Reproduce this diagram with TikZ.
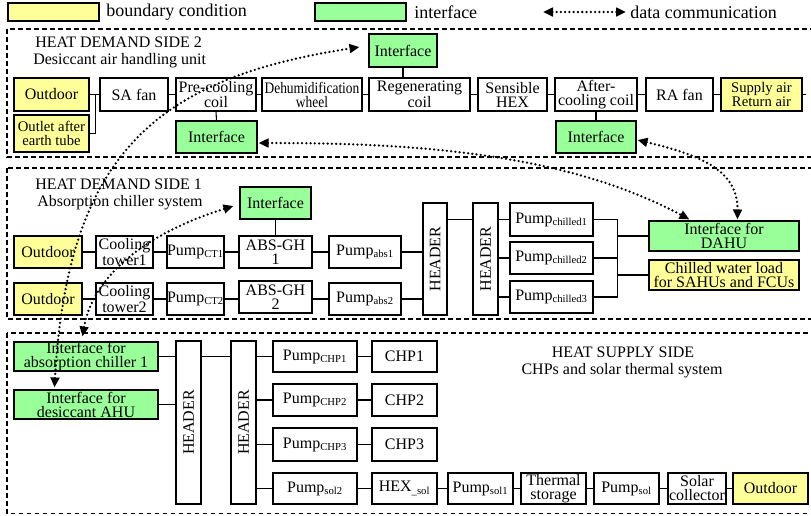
\documentclass[tikz,border=0pt]{standalone}
\usepackage{fontspec}
\setmainfont{Liberation Serif}
\usepackage{graphicx}
\usetikzlibrary{arrows.meta,calc}
\definecolor{yel}{RGB}{255,255,153}
\definecolor{grn}{RGB}{153,255,153}
\newcommand\mybox[7]{\node[#1, minimum width={(#5-#3)*0.75pt}, minimum height={(#6-#4)*0.75pt}] (#2) at ({(#3+#5)/2},{(#4+#6)/2}) {#7};}
\begin{document}
\begin{tikzpicture}[x=0.75pt,y=-0.75pt,
 bx/.style={draw, fill=white, line width=0.8pt, inner sep=0pt, align=center, font=\fontsize{12}{10.5}\selectfont},
 bxy/.style={bx, fill=yel},
 bxg/.style={bx, fill=grn},
 ln/.style={line width=0.8pt},
 sec/.style={line width=0.8pt, dash pattern=on 3.5pt off 2.5pt},
 ttl/.style={anchor=west, inner sep=0pt, font=\fontsize{12}{14}\selectfont},
 lgt/.style={anchor=west, inner sep=0pt, font=\fontsize{13.5}{15}\selectfont},
 dc/.style={line width=1.9pt, dash pattern=on 0pt off 3.2pt, line cap=round, {Triangle[length=7.5pt,width=6.5pt]}-{Triangle[length=7.5pt,width=6.5pt]}},
]
\useasboundingbox (0,0) rectangle (811,515);
% legend
\mybox{bxy}{lgy}{8}{3}{99}{21}{}
\node[lgt] (lgyt) at (106,12) {boundary condition};
\mybox{bxg}{lgg}{315}{3}{406}{21}{}
\node[lgt] (lggt) at (414,12) {interface};
\coordinate (la) at (543,12);
\coordinate (lb) at (626,12);
\node[lgt] (lgdt) at (630,12) {data communication};
% sections
\draw[sec] (7,29) rectangle (815,157);
\draw[sec] (7,168) rectangle (815,319);
\draw[sec] (7,333) rectangle (815,513.5);
\node[ttl] (t2a) at (35,42) {HEAT DEMAND SIDE 2};
\node[ttl] (t2b) at (33,61) {Desiccant air handling unit};
\node[ttl] (t1a) at (35,184) {HEAT DEMAND SIDE 1};
\node[ttl] (t1b) at (37,203) {Absorption chiller system};
\node[ttl, anchor=center] (t0a) at (623,352) {HEAT SUPPLY SIDE};
\node[ttl, anchor=center] (t0b) at (622,371) {CHPs and solar thermal system};
% section 2
\mybox{bxy}{o2}{14}{78}{89}{111}{Outdoor}
\mybox{bxy, font=\fontsize{11}{10.5}\selectfont}{oet}{14}{115}{89}{152}{Outlet after\\earth tube}
\mybox{bx}{saf}{100}{78}{168}{111}{SA fan}
\mybox{bx}{pcc}{176}{78}{256}{111}{Pre-cooling\\coil}
\mybox{bx}{dhw}{262}{78}{362}{111}{\scalebox{0.84}[1]{Dehumidification}\\\scalebox{0.84}[1]{wheel}}
\mybox{bx}{rgc}{369}{78}{470}{111}{Regenerating\\coil}
\mybox{bx}{shx}{478}{78}{547}{111}{Sensible\\HEX}
\mybox{bx}{acc}{555}{78}{637}{111}{After-\\cooling coil}
\mybox{bx}{raf}{646}{78}{713}{111}{RA fan}
\mybox{bxy, font=\fontsize{11}{10}\selectfont}{sra}{721}{78}{802}{111}{Supply air\\Return air}
\mybox{bxg}{ift}{369}{34}{437}{67}{Interface}
\mybox{bxg}{ifp}{176}{121}{257}{153}{Interface}
\mybox{bxg}{ifa}{556}{121}{636}{153}{Interface}
\draw[ln] (o2.east) -- (saf.west);
\draw[ln] (oet.east) -| ($(o2.east)!0.6!(saf.west)$);
\draw[ln] (saf.east) -- (pcc.west);
\draw[ln] (pcc.east) -- (dhw.west);
\draw[ln] (dhw.east) -- (rgc.west);
\draw[ln] (rgc.east) -- (shx.west);
\draw[ln] (shx.east) -- (acc.west);
\draw[ln] (acc.east) -- (raf.west);
\draw[ln] (raf.east) -- (sra.west);
\draw[ln] (sra.east) -- ++(3,0) coordinate (sraend);
\draw[ln] (ift.south) -- (ift.south |- rgc.north);
\draw[ln] (pcc.south) -- (ifp.north);
\draw[ln] (acc.south) -- (ifa.north);
% section 1
\mybox{bxy}{o1a}{14}{236}{82}{268}{Outdoor}
\mybox{bx}{ct1}{96}{236}{153}{268}{Cooling\\tower1}
\mybox{bx}{pc1}{167}{236}{224}{268}{Pump\textsubscript{CT1}}
\mybox{bx}{ab1}{239}{236}{312}{268}{ABS-GH\\1}
\mybox{bx}{pa1}{329}{236}{401}{268}{Pump\textsubscript{abs1}}
\mybox{bxy}{o1b}{14}{283}{82}{315}{Outdoor}
\mybox{bx}{ct2}{96}{283}{153}{315}{Cooling\\tower2}
\mybox{bx}{pc2}{167}{283}{224}{315}{Pump\textsubscript{CT2}}
\mybox{bx}{ab2}{239}{281}{312}{313}{ABS-GH\\2}
\mybox{bx}{pa2}{329}{283}{401}{315}{Pump\textsubscript{abs2}}
\mybox{bxg}{ifm}{240}{187}{311}{219}{Interface}
\mybox{bx}{h1}{423}{203}{447}{315}{\rotatebox{90}{HEADER}}
\mybox{bx}{h2}{473}{203}{498}{315}{\rotatebox{90}{HEADER}}
\mybox{bx}{pch1}{510}{203}{593}{236}{Pump\textsubscript{chilled1}}
\mybox{bx}{pch2}{510}{242}{593}{274}{Pump\textsubscript{chilled2}}
\mybox{bx}{pch3}{510}{281}{593}{313}{Pump\textsubscript{chilled3}}
\mybox{bxg}{dahu}{649}{221}{799}{251}{Interface for\\DAHU}
\mybox{bxy}{cwl}{649}{260}{799}{290}{Chilled water load\\for SAHUs and FCUs}
\draw[ln] (o1a) -- (ct1);
\draw[ln] (ct1) -- (pc1);
\draw[ln] (pc1) -- (ab1);
\draw[ln] (ab1) -- (pa1);
\draw[ln] (o1b) -- (ct2);
\draw[ln] (ct2) -- (pc2);
\draw[ln] (pc2.east) -- (pc2.east -| ab2.west);
\draw[ln] (ab2.east |- pa2.west) -- (pa2.west);
\draw[ln] (pa1.east) -- (pa1.east -| h1.west);
\draw[ln] (pa2.east) -- (pa2.east -| h1.west);
\draw[ln] (ifm.south) -- (ifm.south |- ab1.north);
\draw[ln] (h1.east |- pch1.west) -- (h2.west |- pch1.west);
\draw[ln] (h2.east |- pch1.west) -- (pch1.west);
\draw[ln] (h2.east |- pch2.west) -- (pch2.west);
\draw[ln] (h2.east |- pch3.west) -- (pch3.west);
\draw[ln] (pch1.east) -- ++(24,0) coordinate (bus1) -- (bus1 |- pch3.east) -- (pch3.east);
\draw[ln] (pch2.east) -- (pch2.east -| bus1);
\draw[ln] (bus1 |- dahu.west) -- (dahu.west);
\draw[ln] (bus1 |- cwl.west) -- (cwl.west);
% section 0
\mybox{bxg}{ifab}{14}{342}{158}{371}{Interface for\\absorption chiller 1}
\mybox{bxg}{ifds}{14}{390}{158}{419}{Interface for\\desiccant AHU}
\mybox{bx}{hA}{176}{341}{201}{504}{\rotatebox{90}{HEADER}}
\mybox{bx}{hB}{231}{341}{256}{504}{\rotatebox{90}{HEADER}}
\mybox{bx}{pchp1}{273}{341}{357}{372}{Pump\textsubscript{CHP1}}
\mybox{bx}{pchp2}{273}{384}{357}{416}{Pump\textsubscript{CHP2}}
\mybox{bx}{pchp3}{273}{428}{357}{461}{Pump\textsubscript{CHP3}}
\mybox{bx}{psol2}{273}{473}{357}{504}{Pump\textsubscript{sol2}}
\mybox{bx}{chp1}{372}{341}{437}{372}{CHP1}
\mybox{bx}{chp2}{372}{384}{437}{416}{CHP2}
\mybox{bx}{chp3}{372}{428}{437}{461}{CHP3}
\mybox{bx}{hexs}{372}{473}{437}{504}{HEX\textsubscript{\_sol}}
\mybox{bx}{psol1}{448}{473}{513}{504}{Pump\textsubscript{sol1}}
\mybox{bx}{tst}{521}{473}{586}{504}{Thermal\\storage}
\mybox{bx}{psol}{594}{473}{659}{504}{Pump\textsubscript{sol}}
\mybox{bx}{scol}{668}{473}{726}{504}{Solar\\collector}
\mybox{bxy}{o0}{733}{473}{808}{504}{Outdoor}
\draw[ln] (ifab.east) -- (ifab.east -| hA.west);
\draw[ln] (ifds.east) -- (ifds.east -| hA.west);
\draw[ln] (hA.east |- pchp1.west) -- (hB.west |- pchp1.west);
\draw[ln] (hB.east |- pchp1.west) -- (pchp1.west);
\draw[ln] (hB.east |- pchp2.west) -- (pchp2.west);
\draw[ln] (hB.east |- pchp3.west) -- (pchp3.west);
\draw[ln] (hB.east |- psol2.west) -- (psol2.west);
\draw[ln] (pchp1) -- (chp1);
\draw[ln] (pchp2) -- (chp2);
\draw[ln] (pchp3) -- (chp3);
\draw[ln] (psol2) -- (hexs);
\draw[ln] (hexs) -- (psol1);
\draw[ln] (psol1) -- (tst);
\draw[ln] (tst) -- (psol);
\draw[ln] (psol) -- (scol);
\draw[ln] (scol) -- (o0);
% data communication
\draw[dc] (la) -- (lb);
\draw[dc] ($(ifds.north west)+(41,-2)$) .. controls (68,150) and (160,78) .. ($(ift.west)+(-9,-3.5)$);
\draw[dc] ($(ifab.north west)+(69,-5)$) .. controls (92,280) and (140,235) .. ($(ifm.west)+(-6,3)$);
\draw[dc] ($(ifp.east)+(1,6)$) .. controls (400,143) and (560,150) .. ($(dahu.north west)+(41,-1)$);
\draw[dc] ($(ifa.east)+(1,3)$) .. controls (700,155) and (738,170) .. ($(dahu.north west)+(89,-1)$);
\end{tikzpicture}
\end{document}
